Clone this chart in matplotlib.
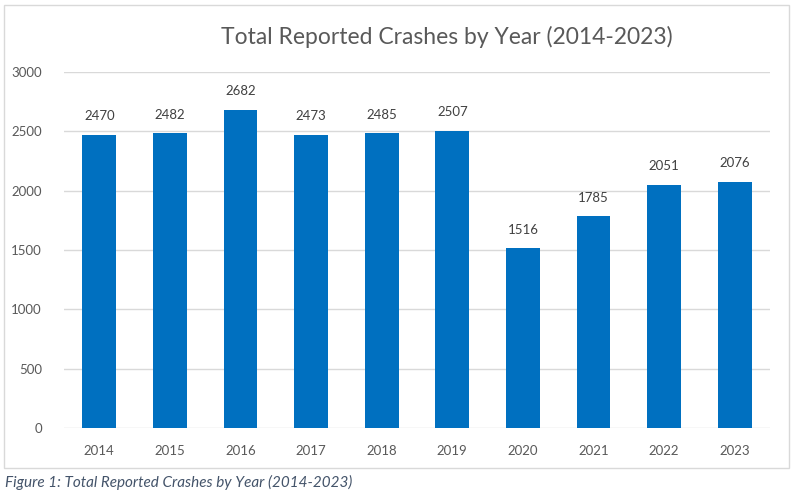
import matplotlib.pyplot as plt
from matplotlib.patches import Rectangle

years = ["2014", "2015", "2016", "2017", "2018", "2019", "2020", "2021", "2022", "2023"]
crashes = [2470, 2482, 2682, 2473, 2485, 2507, 1516, 1785, 2051, 2076]
yticks = [0, 500, 1000, 1500, 2000, 2500, 3000]

plt.rcParams['font.family'] = ['Lato', 'DejaVu Sans']

W, H = 793, 491
fig = plt.figure(figsize=(W / 100, H / 100), dpi=100)

# chart frame
fig.patches.append(Rectangle((4 / W, 1 - 468 / H), 785 / W, 463 / H,
                             transform=fig.transFigure, fill=False,
                             edgecolor="#D9D9D9", linewidth=1))

ax = fig.add_axes([64 / W, 1 - 428 / H, 706 / W, 356 / H])
x = range(len(years))
bars = ax.bar(x, crashes, width=0.48, color="#0070C0", zorder=3)
ax.set_xlim(-0.5, len(years) - 0.5)
ax.set_ylim(0, 3000)
ax.set_yticks(yticks)
ax.set_xticks(list(x))
ax.set_xticklabels(years)
ax.grid(axis="y", color="#D9D9D9", linewidth=1, zorder=0)
for s in ax.spines.values():
    s.set_visible(False)
ax.tick_params(length=0, labelsize=9.5, colors="#595959")
ax.tick_params(axis="x", pad=12)
ax.tick_params(axis="y", pad=16)

for b, v in zip(bars, crashes):
    ax.annotate(str(v), (b.get_x() + b.get_width() / 2, v),
                xytext=(0, 9), textcoords="offset points",
                ha="center", va="bottom", fontsize=9.5, color="#404040")

fig.text(447 / W, 1 - 37 / H, "Total Reported Crashes by Year (2014-2023)",
         ha="center", va="center", fontsize=16.5, color="#595959")
fig.text(5 / W, 1 - 482 / H, "Figure 1: Total Reported Crashes by Year (2014-2023)",
         ha="left", va="center", fontsize=11, style="italic", color="#44546A")

fig.savefig("out.png", dpi=100)
